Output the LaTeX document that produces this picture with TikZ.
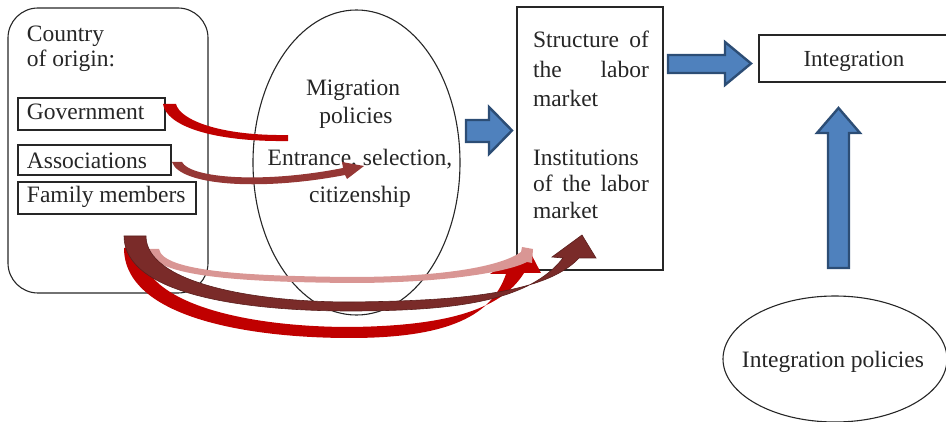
\documentclass[tikz,border=0pt]{standalone}
\usepackage{fontspec}
\setmainfont{Liberation Serif}
\usetikzlibrary{shapes.geometric}
\definecolor{txtc}{HTML}{262626}
\definecolor{redA}{HTML}{C00000}
\definecolor{brownA}{HTML}{7A2B29}
\definecolor{brownD}{HTML}{5A1F1D}
\definecolor{assocA}{HTML}{953735}
\definecolor{pinkA}{HTML}{D99694}
\definecolor{blueF}{HTML}{4F81BD}
\definecolor{blueD}{HTML}{2C4D75}
\begin{document}
\begin{tikzpicture}[x=1pt,y=-1pt,
  every node/.style={inner sep=0pt,outer sep=0pt},
  txt/.style={font=\fontsize{23.5}{28}\selectfont,text=txtc,anchor=base west},
  ctxt/.style={txt,anchor=base},
  frame/.style={draw=txtc,line width=1.1pt},
  blockarrow/.style={fill=blueF,draw=blueD,line width=2.4pt,line join=miter},
  thinedge/.style={line width=0.6pt}]
\useasboundingbox (0,0) rectangle (946,422);

% boxes and ellipses
\node[frame,rounded corners=30pt,minimum width=200pt,minimum height=285pt,anchor=north west] (origin) at (8,8) {};
\node[frame,minimum width=147pt,minimum height=32pt,anchor=north west] (gov) at (18,98) {};
\node[frame,minimum width=153pt,minimum height=30pt,anchor=north west] (assoc) at (18,145) {};
\node[frame,minimum width=178pt,minimum height=32pt,anchor=north west] (family) at (18,182) {};
\node[frame,ellipse,minimum width=207pt,minimum height=305pt] (migr) at (356.5,162.5) {};
\node[frame,minimum width=146pt,minimum height=263pt,anchor=north west] (labor) at (517,7) {};
\node[frame,minimum width=195pt,minimum height=47pt,anchor=north west] (integ) at (759,35) {};
\node[frame,ellipse,minimum width=224pt,minimum height=126pt] (ipol) at (835,359) {};

% texts
\node[txt] (t1) at (27,42) {Country};
\node[txt] (t2) at (27,67) {of origin:};
\node[txt] (t3) at (27,120) {Government};
\node[txt] (t4) at (27,169) {Associations};
\node[txt] (t5) at (27,203) {Family members};
\node[ctxt] (t6) at (353,96) {Migration};
\node[ctxt] (t7) at (356,124) {policies};
\node[ctxt] (t8) at (360,166) {Entrance, selection,};
\node[ctxt] (t9) at (360,203) {citizenship};
\node[txt] (t10) at (533,48) {\makebox[116pt][s]{Structure of}};
\node[txt] (t11) at (533,78) {\makebox[116pt][s]{the labor}};
\node[txt] (t12) at (533,107) {market};
\node[txt] (t13) at (533,166) {Institutions};
\node[txt] (t14) at (533,192) {\makebox[116pt][s]{of the labor}};
\node[txt] (t15) at (533,219) {market};
\node[ctxt,font=\fontsize{23}{28}\selectfont] (t16) at (854,67) {Integration};
\node[ctxt] (t17) at (833,367) {Integration policies};

% block arrows
\draw[blockarrow] (466,120) -- (489,120) -- (489,107) -- (512,130.5) -- (489,154) -- (489,142) -- (466,142) -- cycle;
\draw[blockarrow] (668,55) -- (725,55) -- (725,42) -- (751,63.5) -- (725,85) -- (725,73) -- (668,73) -- cycle;
\draw[blockarrow] (828,268) -- (828,133) -- (817,133) -- (838.5,108) -- (860,133) -- (849,133) -- (849,268) -- cycle;

% government arrow
\fill[redA] (163,104) .. controls (166,125) and (210,142) .. (288,141)
  -- (288,135) .. controls (220,136) and (180,120) .. (176,104) -- cycle;

% associations arrow
\fill[assocA] (172,162) .. controls (180,186) and (262,191) .. (345,175)
  -- (347,179) -- (364,166) -- (342,162) -- (343,168)
  .. controls (262,184) and (190,178) .. (182,162) -- cycle;

% red bottom arrow
\fill[redA] (124,248) .. controls (124,318) and (250,338) .. (350,338)
  .. controls (450,338) and (492,315) .. (506,274)
  -- (490,274) -- (528,248) -- (541,273) -- (524,273)
  .. controls (500,312) and (440,326) .. (350,327)
  .. controls (250,327) and (142,305) .. (140,248) -- cycle;

% pink arrow
\fill[pinkA] (148,249) .. controls (150,278) and (250,282) .. (350,283)
  .. controls (440,283) and (505,273) .. (527,262)
  -- (532,263) -- (533,249) -- (522,247) -- (521,252)
  .. controls (500,267) and (440,277) .. (350,277)
  .. controls (250,276) and (163,272) .. (159,249) -- cycle;

% brown arrow
\filldraw[fill=brownA,draw=brownD,thinedge] (124,236) .. controls (124,296) and (250,311) .. (350,311)
  .. controls (460,311) and (530,300) .. (563,258)
  -- (552,257) -- (582,235) -- (596,258) -- (579,258)
  .. controls (545,295) and (450,301) .. (350,302)
  .. controls (250,302) and (146,282) .. (146,236) -- cycle;
\end{tikzpicture}
\end{document}
